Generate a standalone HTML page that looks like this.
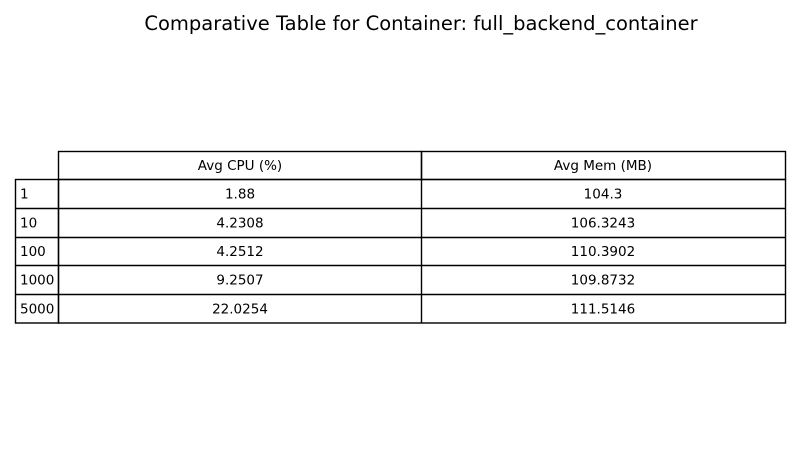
<!DOCTYPE html>
<html><head><meta charset="utf-8"><style>
html,body{margin:0;padding:0;background:#fff;width:800px;height:450px;overflow:hidden}
</style></head><body>
<svg width="800" height="450" xmlns="http://www.w3.org/2000/svg" font-family="DejaVu Sans, Liberation Sans, sans-serif">
<rect width="800" height="450" fill="#fff"/>
<text x="421" y="30" font-size="19.5" text-anchor="middle" fill="#000">Comparative Table for Container: full_backend_container</text>
<g stroke="#000" stroke-width="1.4" fill="none">
<rect x="58.5" y="151.5" width="363" height="28"/>
<rect x="421.5" y="151.5" width="364" height="28"/>
<rect x="15.5" y="179.5" width="43" height="143.5"/>
<rect x="58.5" y="179.5" width="727" height="143.5"/>
<line x1="421.5" y1="179.5" x2="421.5" y2="323"/>
<line x1="15.5" y1="208.5" x2="785.5" y2="208.5"/>
<line x1="15.5" y1="237.5" x2="785.5" y2="237.5"/>
<line x1="15.5" y1="265.5" x2="785.5" y2="265.5"/>
<line x1="15.5" y1="294.5" x2="785.5" y2="294.5"/>
</g>
<g font-size="13.5" fill="#000">
<text x="240" y="170" text-anchor="middle">Avg CPU (%)</text>
<text x="603" y="170" text-anchor="middle">Avg Mem (MB)</text>
<text x="20" y="198.5">1</text>
<text x="20" y="227.5">10</text>
<text x="20" y="256">100</text>
<text x="20" y="284.5">1000</text>
<text x="20" y="313.5">5000</text>
<text x="240" y="198.5" text-anchor="middle">1.88</text>
<text x="240" y="227.5" text-anchor="middle">4.2308</text>
<text x="240" y="256" text-anchor="middle">4.2512</text>
<text x="240" y="284.5" text-anchor="middle">9.2507</text>
<text x="240" y="313.5" text-anchor="middle">22.0254</text>
<text x="603" y="198.5" text-anchor="middle">104.3</text>
<text x="603" y="227.5" text-anchor="middle">106.3243</text>
<text x="603" y="256" text-anchor="middle">110.3902</text>
<text x="603" y="284.5" text-anchor="middle">109.8732</text>
<text x="603" y="313.5" text-anchor="middle">111.5146</text>
</g>
</svg>
</body></html>
